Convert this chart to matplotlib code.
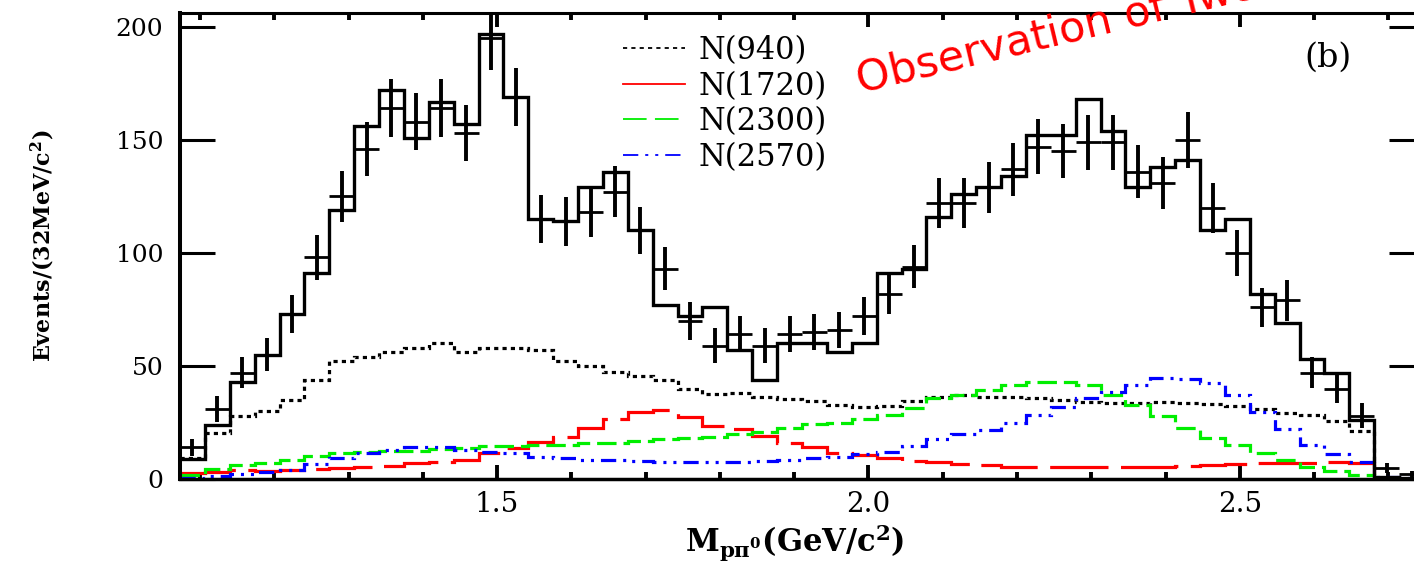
import numpy as np
import matplotlib
matplotlib.use("Agg")
import matplotlib.pyplot as plt
from matplotlib.lines import Line2D
from matplotlib.ticker import MultipleLocator

plt.rcParams['font.family'] = 'DejaVu Serif'
plt.rcParams['mathtext.fontset'] = 'dejavuserif'
plt.rcParams['lines.scale_dashes'] = False

# M(p pi0) binning: 50 bins starting at threshold
m_low = 1.073
bin_w = 0.0335
n_bins = 50

# data points (events per bin) and their error bars
data = [14, 31, 47, 55, 73, 98, 125, 146, 164, 158,
        164, 153, 195, 169, 115, 114, 118, 127, 110, 93,
        70, 59, 64, 59, 64, 65, 66, 72, 82, 94,
        122, 122, 129, 137, 147, 145, 149, 149, 136, 131,
        150, 120, 100, 76, 79, 47, 40, 28, 5, 2]
data_err = [3.7, 5.6, 6.9, 7.4, 8.5, 9.9, 11.2, 12.1, 12.8, 12.6,
            12.8, 12.4, 14.0, 13.0, 10.7, 10.7, 10.9, 11.3, 10.5, 9.6,
            8.4, 7.7, 8.0, 7.7, 8.0, 8.1, 8.1, 8.5, 9.1, 9.7,
            11.0, 11.0, 11.4, 11.7, 12.1, 12.0, 12.2, 12.2, 11.7, 11.4,
            12.2, 11.0, 10.0, 8.7, 8.9, 6.9, 6.3, 5.5, 2.2, 1.4]

# total fit
fit_total = [9, 24, 43, 55, 73, 91, 119, 156, 172, 151,
             167, 157, 197, 169, 115, 114, 129, 136, 110, 77,
             72, 76, 57, 44, 60, 60, 56, 60, 91, 93,
             116, 126, 129, 134, 152, 152, 168, 154, 129, 138,
             141, 110, 115, 82, 69, 53, 47, 26, 1, 0.5]

# fit components
n940 = [9.5, 20.5, 28, 30, 35, 44, 52, 54, 56, 58,
        60, 56, 58, 58, 57, 52, 50, 47.5, 45.6, 43.8,
        39.7, 37.6, 38, 36.1, 35.3, 34.7, 32.7, 31.7, 32.3, 34.4,
        36.1, 37.2, 36.4, 36.1, 35.7, 34.9, 34.2, 33.8, 33.8, 34.2,
        33.8, 33.2, 32.3, 30.8, 29.4, 28.3, 25.8, 21.4, 0.5, 0.2]
n1720 = [2.5, 3.3, 4, 3.6, 4, 4.3, 4.7, 5.2, 5.8, 6.9,
         7.7, 8.4, 11.4, 13.6, 16.5, 18.7, 22.6, 26.4, 29.5, 30.5,
         27.3, 23.5, 22.3, 19, 15.8, 14, 11.7, 10.6, 9.4, 8,
         7.4, 6.8, 6.2, 5.5, 5.2, 5.2, 5.2, 5.2, 5.2, 5.5,
         5.8, 6.2, 6.6, 6.9, 6.9, 7.2, 7.7, 7.2, 0.5, 0.2]
n2300 = [1.8, 4.3, 6.2, 7.2, 8.6, 10.2, 11.7, 11.9, 12.2, 12.5,
         13.1, 13.6, 14.4, 14.4, 15, 15.2, 16.1, 16.1, 16.8, 17.6,
         18, 18.4, 19.9, 20.9, 22.4, 24.2, 24.6, 26.5, 28.3, 31.3,
         35.7, 37, 39.4, 41.6, 43.1, 42.8, 41.6, 37.2, 32.7, 27.9,
         22.4, 18.3, 15, 11.4, 8.4, 5.5, 3.7, 1.8, 0.5, 0.2]
n2570 = [0.3, 1.3, 2.2, 3.2, 4, 6.6, 9.1, 11.4, 12.8, 14.3,
         14.3, 12.8, 12.1, 11.4, 9.9, 9.4, 8.4, 8.4, 8, 7.4,
         7.4, 7.4, 7.7, 8, 8.4, 9.1, 9.9, 10.9, 12.1, 14.8,
         17.6, 20, 21.7, 24.6, 28.3, 31.9, 35.7, 38.6, 41.6, 44.5,
         44.4, 42.3, 37.2, 29.8, 22, 15, 11, 7.7, 1, 0.3]

labels = ['N(940)', 'N(1720)', 'N(2300)', 'N(2570)']
colors = ['black', 'red', '#00ee00', 'blue']
styles = [(0, (3, 3)), (0, (42, 9)), (0, (14, 5)), (0, (11, 5, 2.2, 5, 2.2, 5))]
legend_styles = [(0, (3, 3)), '-', (0, (17, 6)), (0, (11, 5, 2.2, 5, 2.2, 5))]

edges = m_low + bin_w * np.arange(n_bins + 1)
centers = 0.5 * (edges[:-1] + edges[1:])

fig = plt.figure(figsize=(14.14, 5.63), dpi=100)
ax = fig.add_axes([180 / 1414, 84 / 563, 1244 / 1414, 466.3 / 563])

for vals, col, ls in zip([n940, n1720, n2300, n2570], colors, styles):
    ax.stairs(vals, edges, baseline=None, color=col, lw=2.3, linestyle=ls, zorder=2)

ax.stairs(fit_total, edges, baseline=None, color='k', lw=2.4, zorder=3)
ax.errorbar(centers, data, yerr=data_err, fmt='none', ecolor='k', elinewidth=2.8, capsize=0, zorder=4)
ax.errorbar(centers, data, xerr=bin_w / 2, fmt='none', ecolor='k', elinewidth=2.0, capsize=0, zorder=4)

ax.set_xlim(m_low, m_low + bin_w * n_bins)
ax.set_ylim(0, 206.3)
ax.xaxis.set_major_locator(MultipleLocator(0.5))
ax.xaxis.set_minor_locator(MultipleLocator(0.1))
ax.yaxis.set_major_locator(MultipleLocator(50))
ax.tick_params(axis='x', which='major', direction='in', top=True, length=10, width=2.8, labelsize=20, pad=9)
ax.tick_params(axis='x', which='minor', direction='in', top=True, length=5, width=2.8)
ax.tick_params(axis='y', which='major', direction='in', right=True, length=25, width=2.2, labelsize=18, pad=12)
ax.spines['left'].set_linewidth(2.9)
ax.spines['bottom'].set_linewidth(2.5)
ax.spines['top'].set_linewidth(2.2)
ax.spines['right'].set_linewidth(2.2)

ax.set_xlabel(r'$\mathbf{M_{p\pi^{0}}(GeV/c^{2})}$', fontsize=22, va='center')
ax.xaxis.set_label_coords(0.494, -0.137)
ax.set_ylabel(r'Events/(32MeV/c$^{\mathbf{2}}$)', fontsize=16, fontweight='bold', va='center')
ax.yaxis.set_label_coords(-0.110, 0.5)

handles = [Line2D([], [], color=c, lw=1.3, linestyle=ls) for c, ls in zip(colors, legend_styles)]
ax.legend(handles, labels, loc='upper left', bbox_to_anchor=(623 / 1414, 1 - 35 / 563),
          bbox_transform=fig.transFigure, frameon=False, fontsize=22,
          handlelength=2.03, handletextpad=0.43, labelspacing=0.15,
          borderpad=0, borderaxespad=0)

fig.text(1328 / 1414, 1 - 58 / 563, '(b)', ha='center', va='center', fontsize=24)

fig.text(860 / 1414, 1 - 93 / 563, 'Observation of Two', color='red', fontsize=31,
         family='DejaVu Sans', rotation=13.5, rotation_mode='anchor', ha='left', va='baseline')

fig.savefig('out.png', dpi=100)
